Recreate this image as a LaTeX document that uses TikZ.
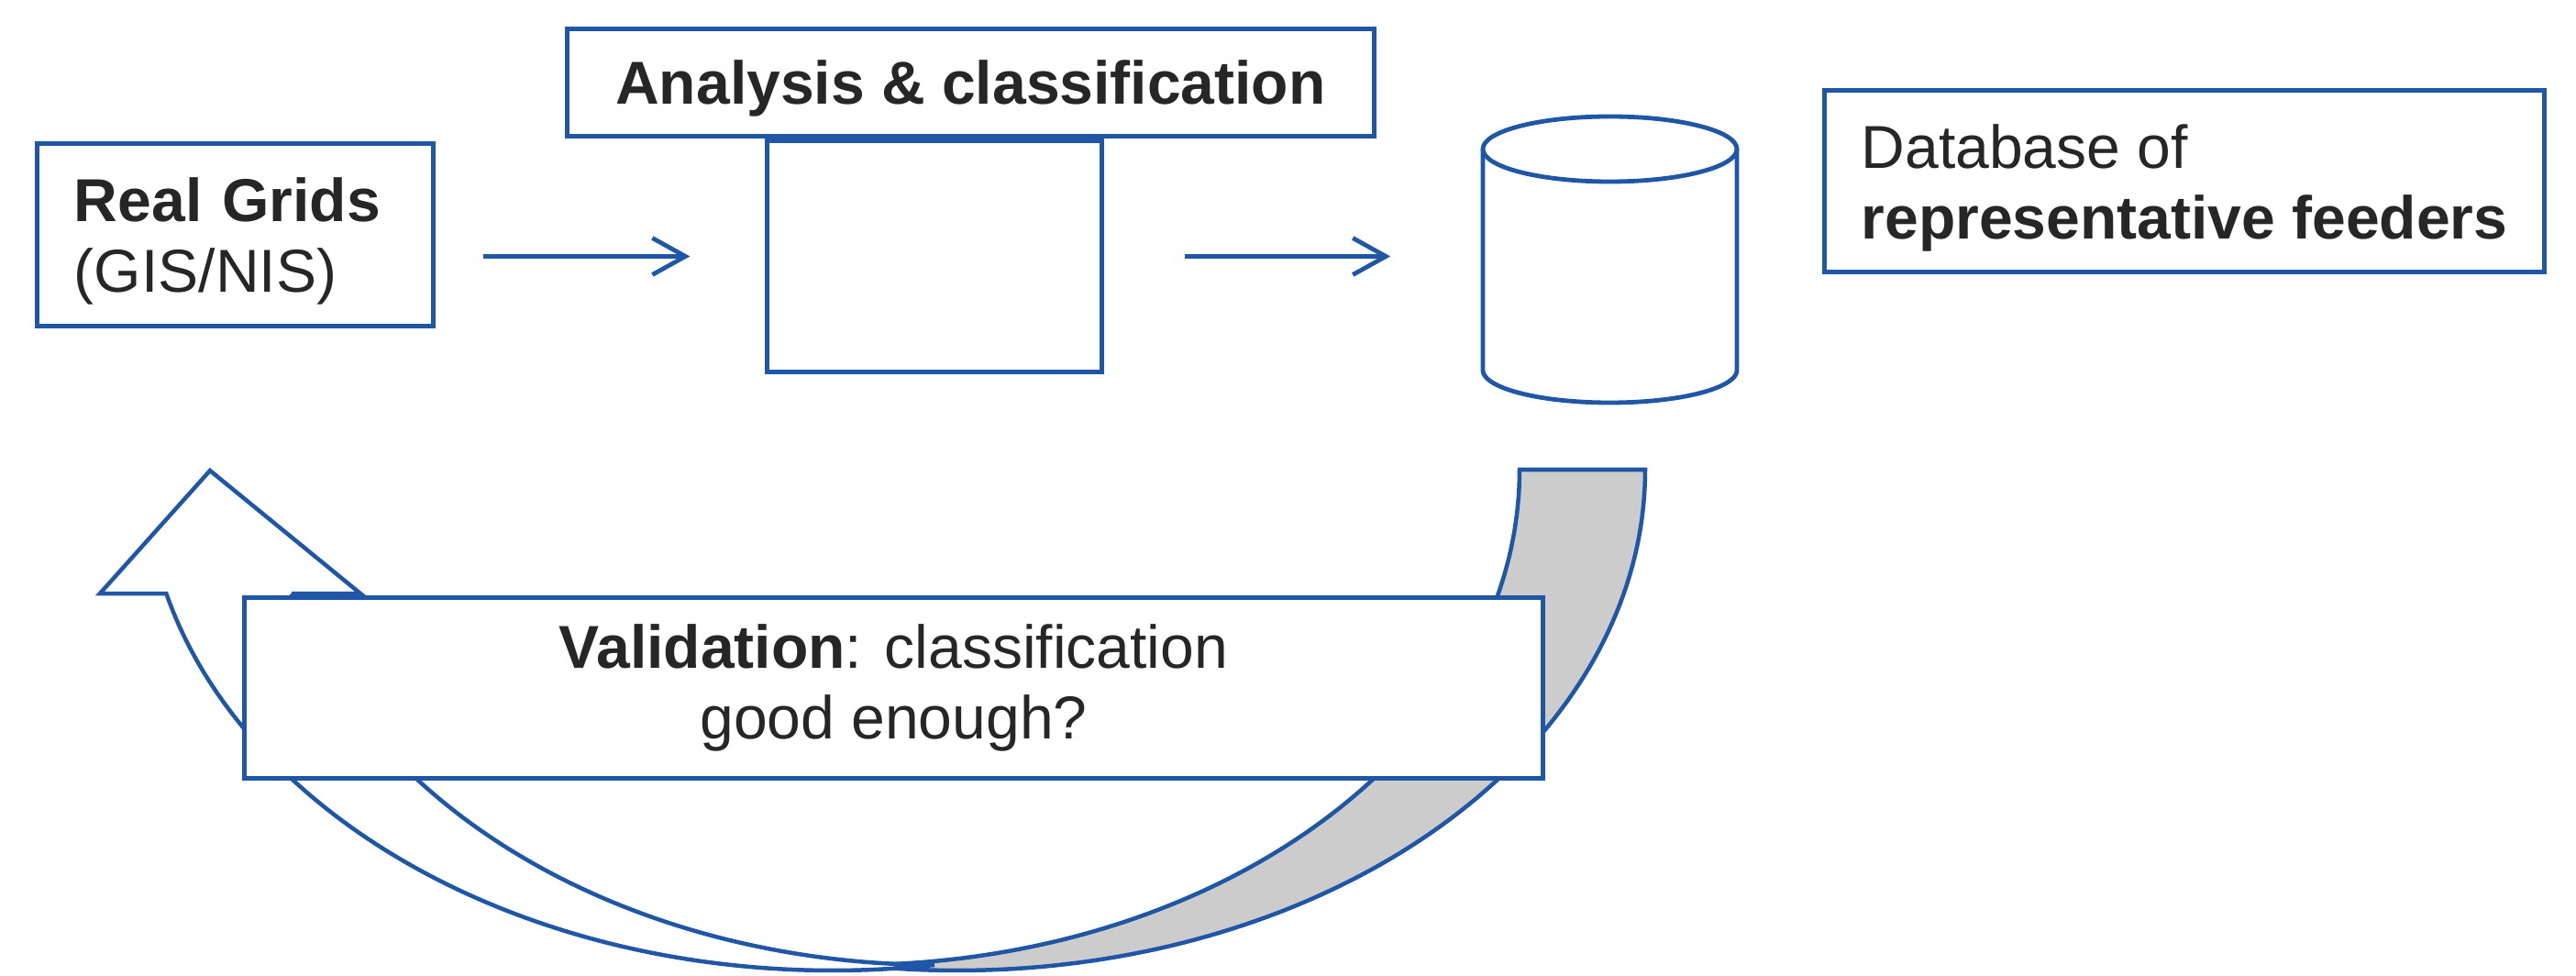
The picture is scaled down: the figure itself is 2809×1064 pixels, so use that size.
\documentclass[tikz,border=0pt]{standalone}
\usepackage{fontspec}
\setmainfont{Liberation Sans}
\usetikzlibrary{arrows.meta,calc}
\definecolor{bblue}{HTML}{1F56A5}
\definecolor{txt}{HTML}{262626}
\definecolor{bandgray}{HTML}{CCCCCC}
\begin{document}
\begin{tikzpicture}[x=0.01cm, y=-0.01cm,
  box/.style={draw=bblue, line width=0.05cm, fill=white, inner sep=0pt, text=txt,
     font=\fontsize{18.78pt}{21.9pt}\selectfont},
  conn/.style={draw=bblue, line width=0.048cm, -{Straight Barb[length=0.36cm, width=0.40cm]}},
  band/.style={draw=bblue, line width=0.045cm, line join=miter},
  cyl/.style={draw=bblue, line width=0.048cm},
]
\useasboundingbox (0,0) rectangle (2809,1064);

% curved feedback arrow: back (gray) part
\draw[band, fill=bandgray]
  plot[domain=0:98.51, samples=90] ({1044+750*cos(\x)}, {512+546*sin(\x)})
  -- plot[domain=89.69:0, samples=90] ({929+728*cos(\x)}, {512+540*sin(\x)})
  -- cycle;
% curved feedback arrow: front part with head
\draw[band, fill=white]
  (181.3,647) -- (109,647) -- (229,513) -- (393,647) -- (318.1,647)
  -- plot[domain=165.52:90.31, samples=90] ({1023+728*cos(\x)}, {512+540*sin(\x)})
  -- plot[domain=81.49:165.68, samples=90] ({908+750*cos(\x)}, {512+546*sin(\x)})
  -- cycle;

% boxes
\node[box, minimum width=14.15cm, minimum height=1.97cm, align=center] (valid) at (974.5,750)
  {\textbf{Validation}: classification\\good enough?};
\node[box, minimum width=4.31cm, minimum height=1.98cm, text width=3.51cm, align=left] (grids) at (256.5,256)
  {\rule{0pt}{0.62cm}\textbf{Real Grids}\\(GIS/NIS)};
\node[box, minimum width=8.79cm, minimum height=1.16cm, text depth=0pt] (ana) at (1058.5,90)
  {\textbf{Analysis \& classification}};
\node[box, minimum width=3.64cm, minimum height=2.51cm] (empty) at (1019,279.5) {};
\node[box, minimum width=7.84cm, minimum height=1.97cm, align=left] (dbtext) at (2382,197.5)
  {\rule{0pt}{0.62cm}Database of\\\textbf{representative feeders}};

% cylinder (database)
\node[minimum width=2.77cm, minimum height=3.12cm, inner sep=0pt] (db) at (1755.5,283) {};
\draw[cyl] (1755.5,162.5) ellipse[x radius=138.5, y radius=35.5];
\draw[cyl] (1617,162.5) -- (1617,403.5)
  -- plot[domain=180:0, samples=60] ({1755.5+138.5*cos(\x)}, {403.5+35.5*sin(\x)})
  -- (1894,162.5);

% connectors
\draw[conn, shorten <=0.52cm, shorten >=0.82cm] (grids.east |- empty.west) -- (empty.west);
\draw[conn, shorten <=0.88cm, shorten >=1.0cm] (empty.east) -- (empty.east -| db.west);
\end{tikzpicture}
\end{document}
